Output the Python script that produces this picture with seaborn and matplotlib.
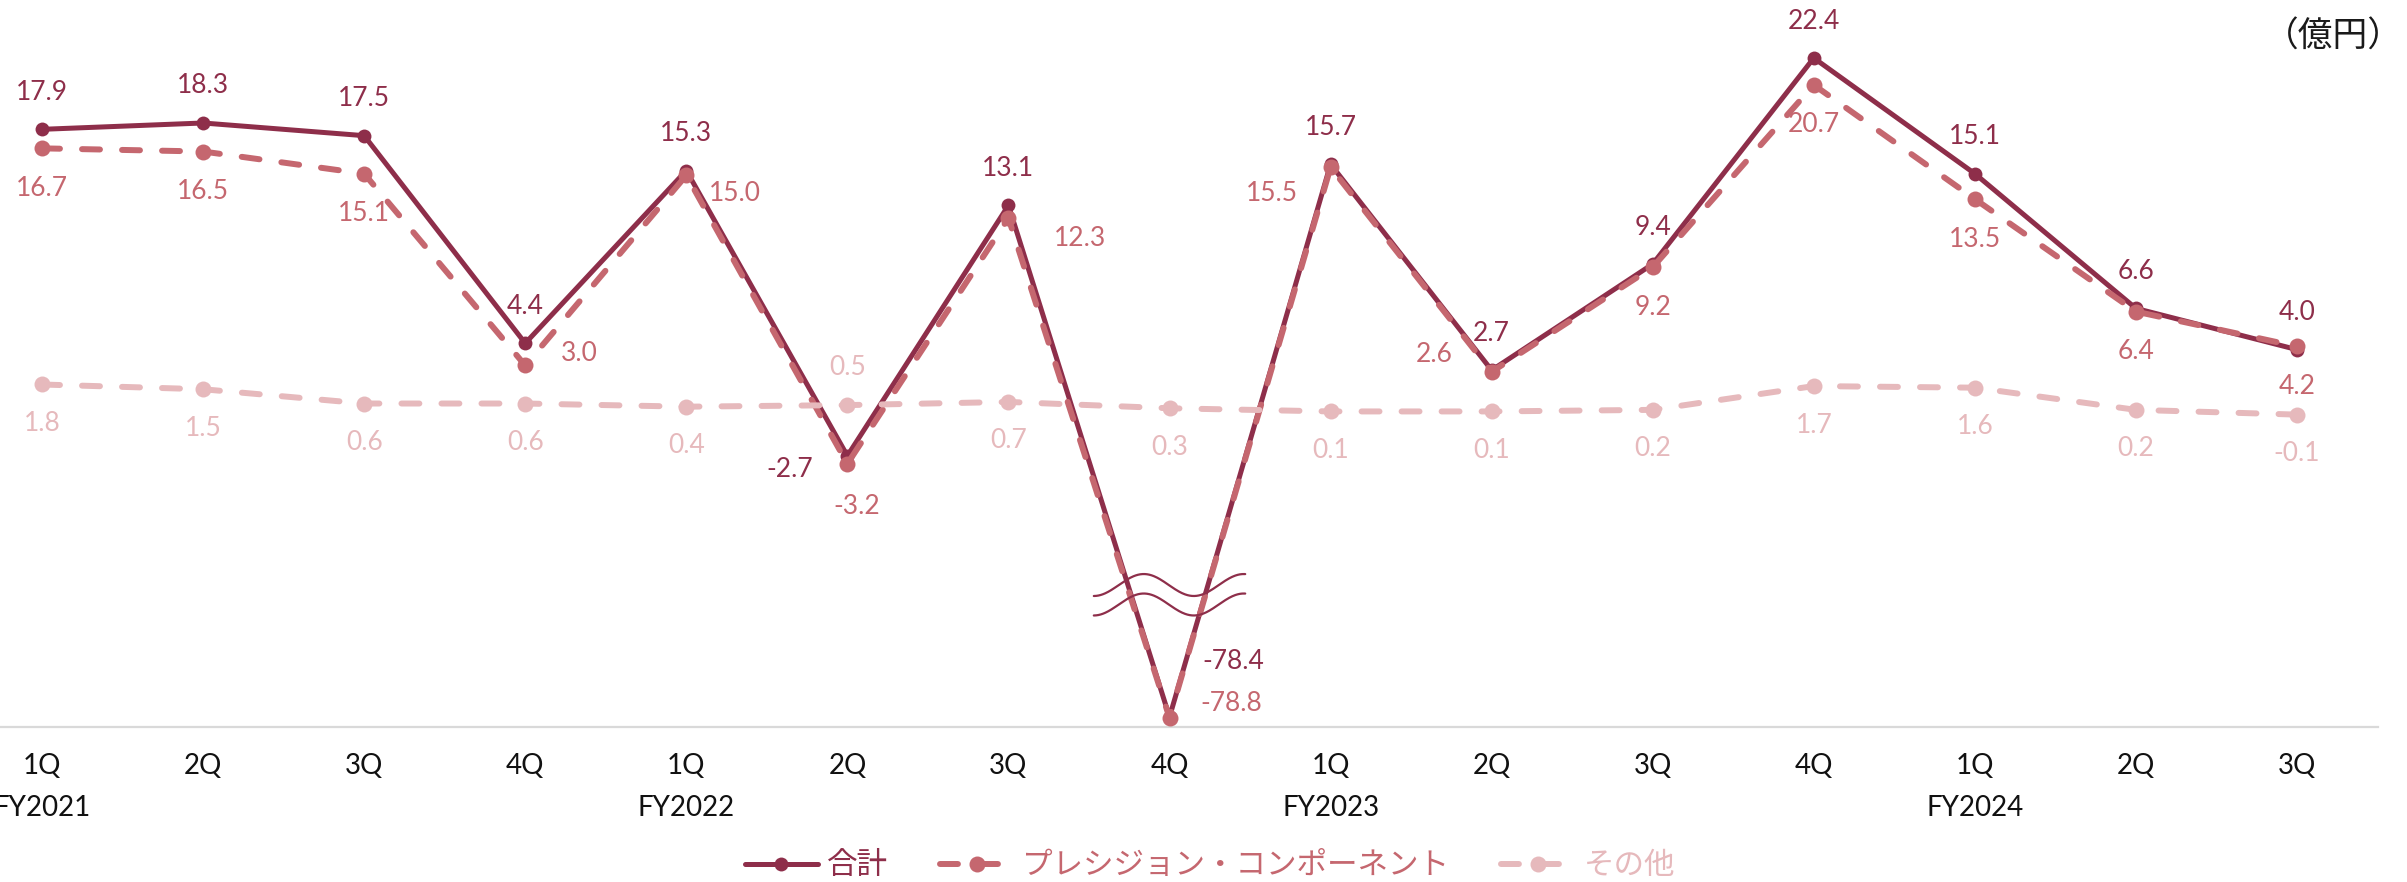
import numpy as np
import pandas as pd
import matplotlib
matplotlib.use("Agg")
import matplotlib.pyplot as plt
import matplotlib.transforms as mtransforms
import seaborn as sns

# Quarterly operating profit by segment (100 million yen)
quarters = ["1Q", "2Q", "3Q", "4Q", "1Q", "2Q", "3Q", "4Q",
            "1Q", "2Q", "3Q", "4Q", "1Q", "2Q", "3Q"]
fiscal_years = ["FY2021", "FY2022", "FY2023", "FY2024"]
fiscal_year_start = [0, 4, 8, 12]

total = [17.9, 18.3, 17.5, 4.4, 15.3, -2.7, 13.1, -78.4,
         15.7, 2.7, 9.4, 22.4, 15.1, 6.6, 4.0]
precision = [16.7, 16.5, 15.1, 3.0, 15.0, -3.2, 12.3, -78.8,
             15.5, 2.6, 9.2, 20.7, 13.5, 6.4, 4.2]
other = [1.8, 1.5, 0.6, 0.6, 0.4, 0.5, 0.7, 0.3,
         0.1, 0.1, 0.2, 1.7, 1.6, 0.2, -0.1]

series_names = ["合計", "プレシジョン・コンポーネント", "その他"]
unit_label = "（億円）"

C_TOTAL = "#8E2E4A"
C_PREC = "#C5676F"
C_OTHER = "#E6B9BC"

# Broken value axis: values below BREAK are compressed by factor K
BREAK = -11.5
K = 0.1148


def fwd(y):
    y = np.asarray(y, dtype=float)
    return np.where(y >= BREAK, y, BREAK + (y - BREAK) * K)


def inv(t):
    t = np.asarray(t, dtype=float)
    return np.where(t >= BREAK, t, BREAK + (t - BREAK) / K)


sns.set_theme(style="white")
plt.rcParams["font.family"] = ["Lato", "Noto Sans CJK JP", "DejaVu Sans"]

df = pd.DataFrame({
    "idx": np.arange(len(quarters)),
    "total": total,
    "precision": precision,
    "other": other,
})

fig = plt.figure(figsize=(24.07, 8.82), dpi=100)
ax = fig.add_axes([0.0, 155 / 882, 2378 / 2407, 727 / 882])

specs = [
    ("total", C_TOTAL, 3.6, 10, None, 3),
    ("precision", C_PREC, 4.3, 11.5, (3.0, 3.7), 4),
    ("other", C_OTHER, 4.3, 11.5, (3.0, 3.7), 5),
]
handles = []
for col, color, lw, ms, dashes, z in specs:
    sns.lineplot(data=df, x="idx", y=col, ax=ax, color=color, linewidth=lw,
                 marker="o", markersize=ms, markeredgewidth=0,
                 markerfacecolor=color, errorbar=None, zorder=z)
    line = ax.lines[-1]
    line.set_solid_capstyle("round")
    line.set_solid_joinstyle("round")
    if dashes is not None:
        line.set_dashes(dashes)
        line.set_dash_capstyle("round")
    line.set_clip_on(False)
    handles.append(line)

ax.set_yscale("function", functions=(fwd, inv))
ax.set_ylim(-83.89, 26.06)
ax.set_xlim(-0.261, 14.503)

# Axis styling
for side in ["top", "right", "left"]:
    ax.spines[side].set_visible(False)
ax.spines["bottom"].set_color("#D9D9D9")
ax.spines["bottom"].set_linewidth(1.6)
ax.set_yticks([])
ax.set_xticks(df["idx"])
ax.set_xticklabels(quarters, fontsize=20, color="#111111")
ax.tick_params(axis="x", length=0, pad=19)
ax.set_xlabel("")
ax.set_ylabel("")
if ax.get_legend() is not None:
    ax.get_legend().remove()

for i, fy in zip(fiscal_year_start, fiscal_years):
    ax.annotate(fy, xy=(i, 0), xycoords=("data", "axes fraction"),
                xytext=(0, -81), textcoords="offset pixels",
                ha="center", va="center", fontsize=20, color="#111111")

# Data labels
total_off = {5: (-58, -14), 7: (64, 56)}
prec_off = {3: (54, 12), 4: (49, -18), 5: (9, -43), 6: (72, -20),
            7: (62, 14), 8: (-59, -26), 9: (-57, 17)}
other_off = {5: (0, 38)}

for values, color, default, special in [
    (total, C_TOTAL, (0, 37), total_off),
    (precision, C_PREC, (0, -40), prec_off),
    (other, C_OTHER, (0, -39), other_off),
]:
    for i, v in enumerate(values):
        dx, dy = special.get(i, default)
        ax.annotate(f"{v:.1f}", xy=(i, v), xytext=(dx, dy),
                    textcoords="offset pixels", ha="center", va="center",
                    fontsize=19, color=color, zorder=6, annotation_clip=False)

# Axis-break marks (two wavy strokes across the plunge)
trans = mtransforms.blended_transform_factory(ax.transData, ax.transAxes)
wx = np.linspace(6.53, 7.47, 200)
phase = 2 * np.pi * (wx - 6.53) * 161.07 / 100
for yc in (0.1953, 0.1685):
    ax.plot(wx, yc - 0.0151 * np.cos(phase), transform=trans,
            color=C_TOTAL, linewidth=1.6, zorder=7, clip_on=False)

# Unit label
fig.text(2403 / 2407, 1 - 37 / 882, unit_label, ha="right", va="center",
         fontsize=25, color="#1a1a1a", family=["Noto Sans CJK JP"])

leg = fig.legend(handles=handles, labels=series_names, loc="center",
                 bbox_to_anchor=(0.5027, 1 - 866 / 882), ncol=3,
                 frameon=False, fontsize=22, handlelength=2.4,
                 handletextpad=0.3, columnspacing=1.7, borderpad=0)
for txt, color in zip(leg.get_texts(), [C_TOTAL, C_PREC, C_OTHER]):
    txt.set_color(color)
    txt.set_family(["Noto Sans CJK JP"])

fig.savefig("out.png", dpi=100, facecolor="white")
